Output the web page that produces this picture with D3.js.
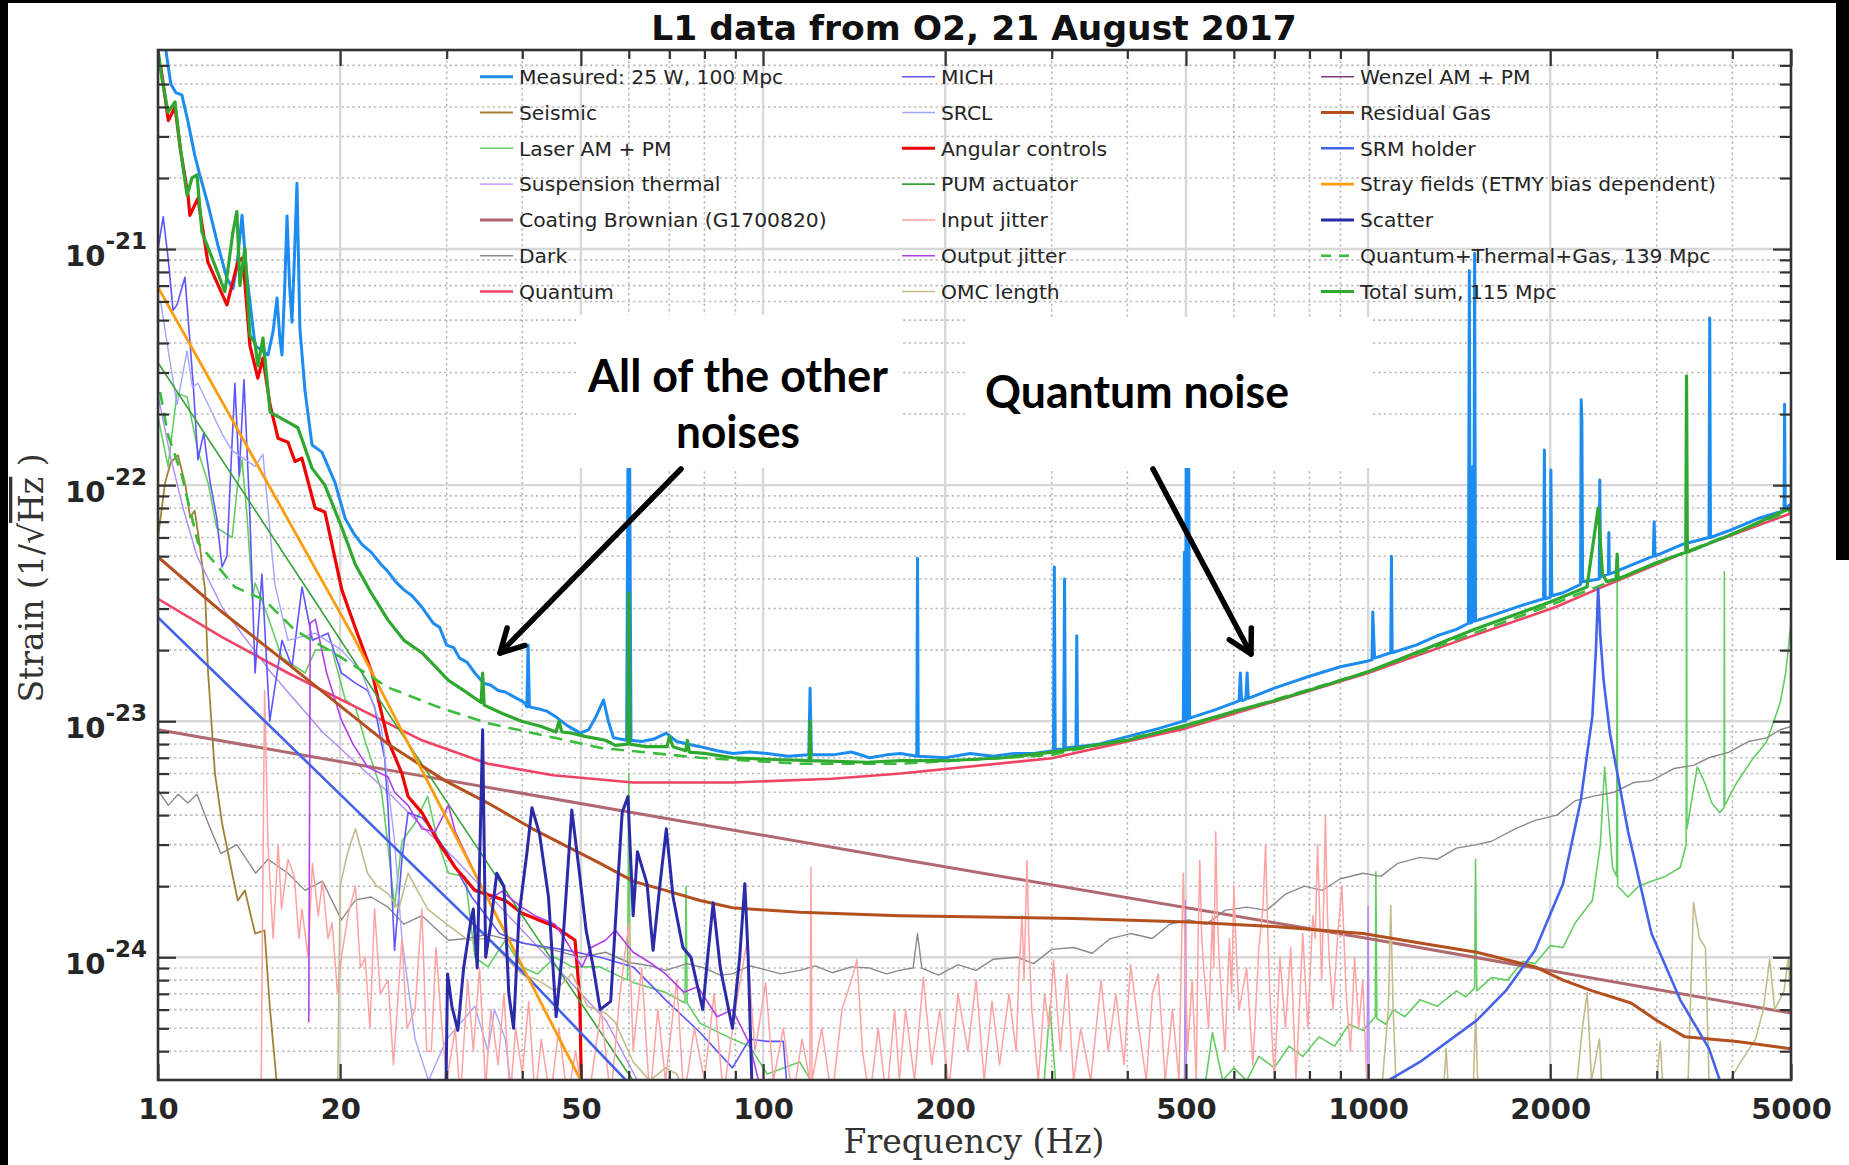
<!DOCTYPE html>
<html><head><meta charset="utf-8">
<script src="https://cdn.jsdelivr.net/npm/d3@7"></script>
<style>
html,body{margin:0;padding:0;background:#fff;}
svg{display:block;}
</style></head><body>
<svg id="chart" width="1849" height="1165"></svg>
<script>
// ===================== DATA (frequency Hz, strain 1/sqrt(Hz)) =====================
const X_DOMAIN = [10, 5000];
const Y_DOMAIN = [3.02e-25, 6.97e-21];
const X_MAJOR = [10, 20, 50, 100, 200, 500, 1000, 2000, 5000];
const X_MINOR = [30, 40, 60, 70, 80, 90, 300, 400, 600, 700, 800, 900, 3000, 4000];
const Y_MAJOR = [1e-24, 1e-23, 1e-22, 1e-21];
const Y_EXPONENTS = ["-24", "-23", "-22", "-21"];
const TITLE = "L1 data from O2, 21 August 2017";
const X_LABEL = "Frequency (Hz)";

const measured = [[10.15,8e-21],[10.3,7e-21],[10.5,5.0e-21],[10.7,4.6e-21],[10.95,4.5e-21],[11.2,3.5e-21],[11.5,2.5e-21],[11.7,2.1e-21],[12.1,1.54e-21],[12.56,1.04e-21],[13.0,7.5e-22],[13.3,6.8e-22],[13.5,8.5e-22],[13.77,1.39e-21],[14.0,8e-22],[14.47,3.9e-22],[15.2,3.56e-22],[15.5,4.5e-22],[15.73,6.2e-22],[15.9,4.2e-22],[16.03,3.56e-22],[16.2,7e-22],[16.34,1.38e-21],[16.5,7e-22],[16.65,4.9e-22],[16.8,9e-22],[16.97,1.9e-21],[17.16,4.6e-22],[17.5,2.5e-22],[17.97,1.48e-22],[18.66,1.38e-22],[19.6,1.03e-22],[20.4,7.2e-23],[21.1,6.2e-23],[21.75,5.6e-23],[22.5,5.2e-23],[23.4,4.6e-23],[24.0,4.3e-23],[24.7,3.9e-23],[25.5,3.6e-23],[26.3,3.4e-23],[27.3,3.04e-23],[28.5,2.6e-23],[29.2,2.5e-23],[30.0,2.1e-23],[30.8,2.05e-23],[31.5,1.85e-23],[32.4,1.78e-23],[33.4,1.6e-23],[34.5,1.45e-23],[35.5,1.42e-23],[36.5,1.35e-23],[37.5,1.33e-23],[38.5,1.28e-23],[40.3,1.2e-23],[40.7,1.15e-23],[40.9,2.1e-23],[41.1,1.15e-23],[43,1.12e-23],[44,1.1e-23],[45.3,1.05e-23],[47.4,9.6e-24],[49.9,8.9e-24],[51.5,9.2e-24],[53,1.05e-23],[54.5,1.23e-23],[55.5,1.0e-23],[56.6,8.5e-24],[59.5,8.3e-24],[59.9,3e-22],[60.1,3e-22],[60.5,8.3e-24],[63,8.2e-24],[66,8.4e-24],[69.2,8.9e-24],[72,8.2e-24],[75,8.0e-24],[78.7,7.8e-24],[84,7.5e-24],[89.2,7.3e-24],[95,7.4e-24],[101.6,7.3e-24],[110,7.1e-24],[119,7.2e-24],[119.6,1.38e-23],[120.2,7.2e-24],[130.5,7.2e-24],[140,7.4e-24],[150,7.0e-24],[160,7.2e-24],[168.8,7.3e-24],[179.5,7.1e-24],[180,4.9e-23],[180.5,7.1e-24],[200,7.0e-24],[220,7.3e-24],[240,7.1e-24],[260,7.3e-24],[280,7.3e-24],[302,7.5e-24],[303,4.5e-23],[304,7.6e-24],[314,7.6e-24],[315,4.0e-23],[316,7.7e-24],[329,7.8e-24],[330,2.3e-23],[331,7.8e-24],[360,8.0e-24],[400,8.6e-24],[450,9.3e-24],[495,1.0e-23],[497,5.2e-23],[499,1.0e-23],[501,3e-22],[503,1.02e-23],[505,2e-22],[507,1.03e-23],[560,1.12e-23],[612,1.22e-23],[615,1.6e-23],[618,1.22e-23],[628,1.24e-23],[631,1.6e-23],[634,1.25e-23],[700,1.38e-23],[800,1.55e-23],[900,1.7e-23],[1000,1.8e-23],[1015,1.82e-23],[1018,2.9e-23],[1025,1.85e-23],[1090,1.95e-23],[1093,5.0e-23],[1096,1.95e-23],[1200,2.1e-23],[1300,2.3e-23],[1400,2.45e-23],[1465,2.6e-23],[1470,8.1e-22],[1475,2.6e-23],[1485,2.62e-23],[1490,1.2e-22],[1495,2.65e-23],[1500,9.6e-22],[1505,2.66e-23],[1600,2.8e-23],[1800,3.1e-23],[1950,3.3e-23],[1956,1.41e-22],[1962,3.3e-23],[2000,3.35e-23],[2005,1.16e-22],[2012,3.4e-23],[2100,3.5e-23],[2245,3.8e-23],[2250,2.3e-22],[2256,1.9e-22],[2262,3.9e-23],[2410,4.0e-23],[2415,1.05e-22],[2422,4.1e-23],[2495,4.2e-23],[2500,6.3e-23],[2505,4.2e-23],[2960,5.0e-23],[2970,7.0e-23],[2980,5.0e-23],[3300,5.6e-23],[3660,6.0e-23],[3670,5.1e-22],[3680,6.0e-23],[4000,6.5e-23],[4400,7.2e-23],[4870,7.8e-23],[4880,2.2e-22],[4890,8.0e-23],[5000,8.3e-23]];

const seismic = [[10,6.0e-23],[10.27,1.02e-22],[10.5,1.25e-22],[10.79,1.34e-22],[11.1,1.0e-22],[11.3,7.3e-23],[11.5,7.8e-23],[11.73,5.5e-23],[11.96,3.6e-23],[12.1,1.6e-23],[12.42,6.0e-24],[12.76,3.7e-24],[13.26,2.27e-24],[13.55,1.74e-24],[13.92,1.92e-24],[14.47,1.26e-24],[15.0,1.3e-24],[15.3,6.2e-25],[15.6,3.6e-25],[15.8,2.5e-25]];

const laserAMPM = [[10,1.95e-22],[10.39,1.2e-22],[10.75,2.45e-22],[11.17,2.36e-22],[11.64,1.4e-22],[12.1,1.02e-22],[12.5,6.6e-23],[13.26,6.0e-23],[13.55,1.02e-22],[13.77,1.28e-22],[14.04,7.3e-23],[14.33,3.3e-23],[14.47,3.85e-23],[15.0,3.04e-23],[16.03,1.86e-23],[17.5,1.6e-23],[18.2,2.0e-23],[19.4,2.0e-23],[20.4,1.23e-23],[21.2,1.15e-23],[22.0,8.2e-24],[23.4,5.1e-24],[24.0,2.95e-24],[24.6,1.63e-24],[25.3,3.1e-24],[26.6,3.7e-24],[27.9,4.8e-24],[29,3.1e-24],[30.2,2.27e-24],[32.2,2.2e-24],[33.4,1.0e-24],[35.1,9.1e-25],[37.5,1.18e-24],[39.9,9.1e-25],[42.4,8.5e-25],[45.3,1.0e-24],[48.3,9.1e-25],[51.3,9.1e-25],[53.8,9.1e-25],[59.7,8e-25],[60,6e-24],[60.3,7.9e-25],[69,7.1e-25],[74.3,6.4e-25],[74.6,2.0e-24],[74.9,6.4e-25],[78.7,5.25e-25],[89,4.5e-25],[95,4.2e-25],[101.6,3.2e-25],[115,3.6e-25],[122,2.8e-25],[200,2.0e-25],[290,2.5e-25],[298,6.2e-25],[306,2.5e-25],[500,2.5e-25],[518,3.0e-25],[535,2.6e-25],[553,4.8e-25],[575,3.0e-25],[600,3.4e-25],[630,3.0e-25],[660,3.8e-25],[700,3.4e-25],[740,4.2e-25],[780,3.8e-25],[830,4.6e-25],[880,4.2e-25],[930,5.2e-25],[981,4.9e-25],[1028,5.6e-25],[1030,2.3e-24],[1034,5.5e-25],[1070,5.2e-25],[1100,6.0e-25],[1150,5.6e-25],[1218,6.6e-25],[1300,6.2e-25],[1400,7.2e-25],[1450,6.8e-25],[1500,7.4e-25],[1505,2.6e-24],[1512,7.2e-25],[1600,8.2e-25],[1700,8.0e-25],[1800,9.6e-25],[1888,9.4e-25],[2000,1.12e-24],[2100,1.1e-24],[2200,1.4e-24],[2348,1.74e-24],[2420,3e-24],[2460,6.4e-24],[2535,2.4e-24],[2575,2.2e-24],[2580,5.0e-23],[2585,2.0e-24],[2690,1.8e-24],[2800,2.0e-24],[2940,2.1e-24],[3100,2.2e-24],[3280,2.4e-24],[3355,3.0e-24],[3360,2.9e-22],[3365,3.5e-24],[3500,6.4e-24],[3600,5.5e-24],[3700,4.5e-24],[3810,4.1e-24],[3875,4.3e-24],[3880,4.3e-23],[3885,4.4e-24],[4070,5.5e-24],[4300,6.8e-24],[4560,8.2e-24],[4800,1.2e-23],[4900,1.6e-23],[5000,2.6e-23]];

const suspThermal = [[10,2.4e-22],[10.5,1.3e-22],[11,8e-23],[11.6,5e-23],[12.8,3.0e-23],[15.4,1.6e-23],[18.7,9e-24],[24,5e-24],[31,2.6e-24],[40,1.3e-24],[55,5.4e-25],[62,3.0e-25],[65,2.5e-25],[497,2.5e-25],[499,1.74e-24],[501,2.5e-25],[995,2.5e-25],[1000,1.65e-24],[1005,2.5e-25]];

const coatingBrownian = [[10,9.2e-24],[25,6.1e-24],[169,2.6e-24],[1000,1.2e-24],[5000,5.8e-25]];

const dark = [[10,5.1e-24],[10.4,4.4e-24],[10.8,4.9e-24],[11.2,4.5e-24],[11.6,4.9e-24],[12.1,3.7e-24],[12.7,2.75e-24],[13.5,3.0e-24],[14.5,2.27e-24],[15.2,2.6e-24],[16.4,2.27e-24],[17.5,1.92e-24],[18.7,2.1e-24],[20.1,1.44e-24],[21.2,1.75e-24],[22.5,1.8e-24],[24,1.63e-24],[25.5,1.38e-24],[27.3,1.5e-24],[30.2,1.18e-24],[32.5,1.2e-24],[35,1.25e-24],[40,1.15e-24],[45.3,1.07e-24],[50,1.0e-24],[54.9,1.05e-24],[60,9.5e-25],[65,9.2e-25],[69,8.8e-25],[75,9.4e-25],[80,9.0e-25],[85,8.4e-25],[89,8.5e-25],[95,9.2e-25],[100,8.9e-25],[107,8.5e-25],[115,8.8e-25],[122,9.2e-25],[130,8.6e-25],[140,9.1e-25],[150,9.0e-25],[160,8.5e-25],[168,8.8e-25],[177,9.0e-25],[180,1.26e-24],[183,9.0e-25],[195,8.4e-25],[210,9.3e-25],[225,8.8e-25],[240,9.8e-25],[263,1.0e-24],[280,9.4e-25],[300,1.08e-24],[326,1.1e-24],[350,1.04e-24],[375,1.2e-24],[405,1.26e-24],[440,1.2e-24],[470,1.38e-24],[505,1.44e-24],[540,1.38e-24],[580,1.58e-24],[630,1.63e-24],[680,1.58e-24],[730,1.85e-24],[785,2.0e-24],[840,1.92e-24],[900,2.15e-24],[981,2.27e-24],[1050,2.2e-24],[1120,2.5e-24],[1218,2.65e-24],[1300,2.6e-24],[1400,2.9e-24],[1512,3.0e-24],[1600,3.1e-24],[1750,3.5e-24],[1888,3.8e-24],[2050,4.0e-24],[2200,4.6e-24],[2348,4.8e-24],[2550,5.0e-24],[2750,5.5e-24],[2940,5.6e-24],[3200,6.3e-24],[3450,6.5e-24],[3660,7.0e-24],[3950,7.4e-24],[4250,8.2e-24],[4560,8.5e-24],[4800,9.2e-24],[5000,9.5e-24]];

const quantum = [[10,3.3e-23],[12.76,2.27e-23],[16.4,1.6e-23],[21.2,1.15e-23],[27.3,8.3e-24],[35.1,6.6e-24],[45,5.9e-24],[61,5.5e-24],[89,5.5e-24],[130,5.7e-24],[169,6.0e-24],[300,6.97e-24],[498,9.3e-24],[655,1.15e-23],[1000,1.6e-23],[1469,2.27e-23],[2038,3.04e-23],[2415,3.66e-23],[3406,5.3e-23],[5000,7.6e-23]];

const mich = [[10,1.0e-21],[10.2,1.37e-21],[10.4,9e-22],[10.59,5.5e-22],[10.75,5.8e-22],[11.08,7.6e-22],[11.43,2.7e-22],[11.64,1.28e-22],[11.9,1.66e-22],[12.2,1.02e-22],[12.5,7.3e-23],[12.76,4.5e-23],[13.0,5e-23],[13.2,1.2e-22],[13.4,2.7e-22],[13.62,1.1e-22],[13.87,2.8e-22],[14.19,7.3e-23],[14.47,1.6e-23],[14.85,4.2e-23],[15.3,1.0e-23],[16.03,2.2e-23],[16.65,1.7e-23],[17.3,3.7e-23],[18,2.2e-23],[19.1,2.36e-23],[20.1,1.6e-23],[21.2,1.45e-23],[22.2,1.35e-23],[22.8,1.15e-23],[23.7,6.9e-24],[24,4.3e-24],[24.6,1.07e-24],[25.3,2.6e-24],[25.9,4.1e-24],[27.3,3.9e-24],[28.3,3.5e-24],[30,2.8e-24],[33,1.8e-24],[36.7,1.26e-24],[40,1.15e-24],[47.4,1.07e-24],[53.8,1.0e-24],[61,9.1e-25],[69,6.6e-25],[78.7,4.8e-25],[89,3.4e-25],[95,4.5e-25],[101.6,4.4e-25],[108,4.4e-25],[110,2.5e-25]];

const srcl = [[10.1,6e-22],[10.4,3.7e-22],[10.75,2.2e-22],[11.17,3.7e-22],[11.4,2.6e-22],[11.64,2.7e-22],[12.2,2.1e-22],[12.76,1.65e-22],[13.26,1.4e-22],[14.47,1.2e-22],[14.91,1.35e-22],[15.6,3.8e-23],[16.4,2.2e-23],[18.2,2.36e-23],[20.1,2.0e-23],[21.75,1.6e-23],[23.4,9.4e-24],[24.6,3.1e-24],[25.3,1.2e-24],[26.6,4.5e-25],[28,3.0e-25],[30,4.5e-25],[33.4,6.2e-25],[35.1,4.0e-25],[36,6.0e-25],[37.5,4.5e-25],[38.5,2.5e-25]];

const angularControls = [[10.1,6e-21],[10.4,3.5e-21],[10.67,4e-21],[10.9,2.6e-21],[11.21,1.69e-21],[11.29,1.39e-21],[11.64,1.64e-21],[12.09,8.8e-22],[13.0,5.8e-22],[13.55,8.8e-22],[13.81,9.2e-22],[14.19,3.9e-22],[14.62,2.84e-22],[14.91,3.45e-22],[15.32,2.18e-22],[15.79,1.58e-22],[16.4,1.52e-22],[16.84,1.26e-22],[17.29,1.3e-22],[18.18,8.0e-23],[18.87,7.7e-23],[20.13,3.6e-23],[21.17,2.5e-23],[22.58,1.6e-23],[24.0,8.3e-24],[25.3,6.0e-24],[25.9,4.8e-24],[27.3,4.1e-24],[29.0,3.1e-24],[31.0,2.4e-24],[33.4,1.92e-24],[37.5,1.74e-24],[39.9,1.54e-24],[45.3,1.35e-24],[48.9,1.18e-24],[49.8,6.6e-25],[50.2,2e-25]];

const pumActuator = [[10,3.3e-22],[18,3.35e-23],[25.1,9.1e-24],[40,1.5e-24],[61,3e-25]];

const inputJitter = [[14.8,2.5e-25],[15.0,1.35e-23],[15.2,3.0e-24],[15.5,1.2e-24],[15.8,3.0e-24],[16.0,1.6e-24],[16.4,2.6e-24],[16.8,2.2e-24],[17.1,1.2e-24],[17.3,1.6e-24],[17.7,1.0e-24],[18.0,2.5e-24],[18.4,1.5e-24],[18.7,2.1e-24],[19.1,1.2e-24],[19.4,1.4e-24],[19.8,7e-25],[20.1,1.0e-24],[20.6,1.5e-24],[21.2,2.0e-24],[21.6,9e-25],[22.0,1.0e-24],[22.4,5e-25],[22.8,1.6e-24],[23.3,7e-25],[24.0,8e-25],[24.5,3.5e-25],[25.3,1.2e-24],[25.8,5e-25],[26.6,6e-25],[27.3,1.6e-24],[27.8,4e-25],[28.3,4e-25],[28.8,1.1e-24],[29.3,6e-25],[30.0,3e-25],[31.0,5e-25],[31.6,2.5e-25],[32.5,8e-25],[33.2,4e-25],[34,9e-25],[34.8,2.8e-25],[35.5,6e-25],[36.5,3.5e-25],[37.3,7e-25],[38.2,2.5e-25],[39,5e-25],[40,3.2e-25],[41,6.5e-25],[42,2.5e-25],[43,4.5e-25],[44.5,2.5e-25],[46,5e-25],[47.5,2.5e-25],[49,4e-25],[50.5,2.5e-25],[52,3e-25],[54,6e-25],[56,2.5e-25],[58,7e-25],[60,1.4e-24],[61,4e-25],[63,9e-25],[65,2.5e-25],[67,6e-25],[69,3e-25],[72,8e-25],[74,2.5e-25],[77,5e-25],[80,3e-25],[83,7e-25],[86,2.6e-25],[90,6e-25],[94,1.15e-24],[97,4e-25],[101,7.8e-25],[104,3e-25],[108,5e-25],[112,2.5e-25],[116,4.5e-25],[119.5,3e-25],[120,2.4e-24],[120.5,3e-25],[125,5e-25],[130,2.5e-25],[135,6e-25],[140,8e-25],[143,9.8e-25],[146,4e-25],[150,2.5e-25],[155,5e-25],[160,2.5e-25],[165,6e-25],[168,3e-25],[172,6e-25],[178,3e-25],[184,8.2e-25],[190,3.5e-25],[196,6e-25],[203,2.8e-25],[210,7e-25],[218,4e-25],[225,8e-25],[232,3e-25],[239,6.5e-25],[246,3.5e-25],[255,7e-25],[262,4e-25],[265,9e-25],[268,1.5e-24],[270,8e-25],[273,2.57e-24],[275,1.2e-24],[278,6e-25],[285,3e-25],[292,7e-25],[297,5e-25],[302,9.7e-25],[310,4e-25],[318,8.5e-25],[326,3e-25],[335,5e-25],[348,3e-25],[362,8e-25],[372,4e-25],[383,7e-25],[395,3.5e-25],[405,9.3e-25],[418,5e-25],[430,3e-25],[440,7e-25],[450,8.5e-25],[462,3e-25],[475,6e-25],[487,3e-25],[492,1.2e-24],[495,2.27e-24],[499,9e-25],[503,4e-25],[512,8e-25],[520,3e-25],[524,1.3e-24],[527,2.57e-24],[531,1.2e-24],[535,9e-25],[545,5e-25],[553,1.5e-24],[556,9e-25],[560,3.4e-24],[563,1.6e-24],[567,1.0e-24],[580,4e-25],[590,1.2e-24],[595,7e-25],[600,2.0e-24],[606,1.0e-24],[612,6e-25],[630,9e-25],[645,3.5e-25],[660,1.1e-24],[670,1.6e-24],[677,3.0e-24],[682,1.4e-24],[688,7e-25],[700,3e-25],[715,1.0e-24],[730,5e-25],[745,1.1e-24],[760,3e-25],[780,1.26e-24],[795,5e-25],[810,1.5e-24],[818,1.2e-24],[825,3.0e-24],[832,1.5e-24],[838,8e-25],[845,1.8e-24],[850,4.0e-24],[856,1.6e-24],[862,1.0e-24],[875,6e-25],[890,1.2e-24],[905,2.0e-24],[920,7e-25],[935,4e-25],[950,1.0e-24],[965,5e-25],[980,8e-25],[995,3e-25],[1005,2.5e-25]];

const outputJitter = [[17.75,5.3e-25],[17.85,2.6e-23],[18.2,2.7e-23],[19,1.6e-23],[20.1,1.01e-23],[21,8e-24],[22.2,6.4e-24],[24,5.8e-24],[24.6,5.0e-24],[25.9,4.4e-24],[27.3,3.5e-24],[28.7,3.4e-24],[30.2,4.4e-24],[31,3.4e-24],[33.4,2.27e-24],[35.1,1.74e-24],[37,1.9e-24],[39.9,1.63e-24],[42,1.5e-24],[45.3,1.38e-24],[47,1.2e-24],[50.2,9.1e-25],[52,1.1e-24],[54.9,1.18e-24],[57,1.3e-24],[61,1.05e-24],[65,9.5e-25],[69,8.5e-25],[74,7.1e-25],[78,7.5e-25],[84,5.6e-25],[89,6.0e-25],[95,4.3e-25],[100,2.5e-25]];

const omcLength = [[19.8,2.5e-25],[20.0,2.0e-24],[20.6,2.8e-24],[21.2,3.5e-24],[22.2,2.27e-24],[23,2.0e-24],[24,1.86e-24],[25,1.6e-24],[25.9,2.27e-24],[27.9,1.6e-24],[30,1.38e-24],[32.6,1.18e-24],[35.1,1.2e-24],[37.5,1.0e-24],[39.9,8.5e-25],[42.4,8e-25],[45.3,7.2e-25],[48.3,8.5e-25],[51.3,6.2e-25],[54.9,5.8e-25],[57,5.3e-25],[61,3.6e-25],[65,3e-25],[69,3.4e-25],[72,3.2e-25],[75,2.5e-25],[1050,2.5e-25],[1080,6e-25],[1090,1.66e-24],[1100,6e-25],[1115,2.5e-25],[1330,2.5e-25],[1346,4.1e-25],[1360,2.5e-25],[1490,2.5e-25],[1506,5.8e-25],[1520,2.5e-25],[2200,2.5e-25],[2260,5e-25],[2302,7.1e-25],[2340,3e-25],[2412,4.5e-25],[2440,2.5e-25],[2980,2.5e-25],[3040,4.4e-25],[3080,2.5e-25],[3380,3e-25],[3450,1.7e-24],[3530,1.2e-24],[3610,1.1e-24],[3660,3e-25],[3900,2.8e-25],[4100,3.5e-25],[4370,4.5e-25],[4500,6e-25],[4610,9.8e-25],[4700,6e-25],[4870,7.2e-25],[4950,1.0e-24],[5000,6e-25]];

const wenzelAMPM = [];

const residualGas = [[10,4.96e-23],[12.76,2.9e-23],[16.4,1.75e-23],[20.1,1.15e-23],[24,8.0e-24],[29.8,5.6e-24],[35.1,4.5e-24],[41.6,3.5e-24],[53.8,2.5e-24],[61,2.1e-24],[69,1.92e-24],[78.7,1.74e-24],[89,1.62e-24],[115,1.55e-24],[168,1.5e-24],[326,1.46e-24],[505,1.41e-24],[698,1.35e-24],[981,1.26e-24],[1218,1.15e-24],[1512,1.05e-24],[1888,9.1e-25],[2100,8.0e-25],[2348,7.2e-25],[2720,6.4e-25],[3000,5.4e-25],[3340,4.6e-25],[4070,4.4e-25],[5000,4.1e-25]];

const srmHolder = [[10,2.75e-23],[20,4.9e-24],[40,8.7e-25],[61,2.8e-25],[61,null],[1030,2.8e-25],[1218,3.6e-25],[1512,5.4e-25],[1688,7.2e-25],[1888,1.07e-24],[2100,2.05e-24],[2246,4.6e-24],[2348,1.05e-23],[2380,2.0e-23],[2400,3.7e-23],[2420,2.3e-23],[2450,1.5e-23],[2510,8.9e-24],[2690,3.4e-24],[2940,1.26e-24],[3280,6.6e-25],[3660,4.1e-25],[3850,2.8e-25]];

const strayFields = [[10,6.9e-22],[21.2,2.2e-23],[50,3.0e-25]];

const scatter = [[29.9,2.5e-25],[30.1,8.5e-25],[30.6,6.2e-25],[31.3,4.9e-25],[32,9e-25],[32.9,1.44e-24],[33.2,1.6e-24],[33.7,9e-25],[34.4,9.2e-24],[34.8,1.0e-24],[35.5,1.4e-24],[36.3,2.27e-24],[37.3,2.0e-24],[38,7e-25],[38.7,5.0e-25],[39.5,1.5e-24],[40.7,2.75e-24],[41.5,4.3e-24],[42.7,3.35e-24],[44.2,1.8e-24],[45.5,5.6e-25],[46.5,1.0e-24],[48.3,4.2e-24],[49.8,2.2e-24],[51,1.3e-24],[52.4,9.1e-25],[53.8,6.0e-25],[56,6.5e-25],[57.5,2e-24],[58.5,4.1e-24],[59.8,4.8e-24],[61,1.5e-24],[62,2.8e-24],[64.3,2.05e-24],[65.8,1.07e-24],[67.5,2.0e-24],[69.2,3.5e-24],[71,1.8e-24],[73.7,1.1e-24],[76,1.0e-24],[79.5,6.0e-25],[81,1.0e-24],[82.7,1.7e-24],[85,9e-25],[89,5.0e-25],[91.5,1.0e-24],[93.3,2.05e-24],[94.5,1.0e-24],[96,2.5e-25]];

const quantumThermalGas = [[10.08,2.48e-22],[10.39,1.63e-22],[10.95,1.1e-22],[11.64,5.7e-23],[13.4,3.7e-23],[15.0,3.26e-23],[16.84,2.43e-23],[20.1,1.86e-23],[24,1.39e-23],[29,1.15e-23],[35.1,9.8e-24],[45.3,8.5e-24],[54,7.7e-24],[78.7,7.0e-24],[115,6.6e-24],[169,6.6e-24],[300,7.2e-24],[500,9.5e-24],[1000,1.62e-23],[2000,3.1e-23],[5000,7.8e-23]];

const totalSum = [[10.0,7e-21],[10.15,5.3e-21],[10.39,3.8e-21],[10.67,4.2e-21],[10.87,2.75e-21],[11.17,1.69e-21],[11.38,2.0e-21],[11.6,2.06e-21],[11.82,1.18e-21],[12.28,9.2e-22],[12.9,6.6e-22],[13.3,1.18e-21],[13.5,1.44e-21],[13.66,7.0e-22],[13.92,1.01e-21],[14.19,4.3e-22],[14.47,4.0e-22],[14.62,3.2e-22],[14.91,4.2e-22],[15.32,2.04e-22],[16.4,1.85e-22],[17.03,1.75e-22],[17.97,1.18e-22],[18.87,1.0e-22],[20.13,6.6e-23],[21.2,4.6e-23],[22.5,3.5e-23],[24.0,2.68e-23],[25.5,2.2e-23],[27.3,1.95e-23],[30.2,1.49e-23],[32,1.35e-23],[34.2,1.2e-23],[34.4,1.6e-23],[34.6,1.17e-23],[37,1.08e-23],[39.9,1.0e-23],[43,9.5e-24],[45.5,9.0e-24],[46,1.0e-23],[46.5,9.0e-24],[48.3,8.9e-24],[51,8.6e-24],[54.9,8.3e-24],[57,7.9e-24],[59.8,8e-24],[60,3.5e-23],[60.2,8e-24],[64,7.8e-24],[69.4,7.8e-24],[70,8.6e-24],[71,7.8e-24],[74.5,7.5e-24],[75,8.3e-24],[75.5,7.4e-24],[80,7.3e-24],[89.2,7.0e-24],[101.6,6.9e-24],[119.3,6.8e-24],[119.6,1.0e-23],[119.9,6.8e-24],[148.7,6.7e-24],[169,6.8e-24],[200,6.8e-24],[250,7.0e-24],[300,7.4e-24],[400,8.3e-24],[500,9.6e-24],[600,1.1e-23],[700,1.22e-23],[850,1.42e-23],[1000,1.62e-23],[1200,1.95e-23],[1500,2.45e-23],[2000,3.2e-23],[2300,3.7e-23],[2400,8.0e-23],[2440,4.2e-23],[2480,3.9e-23],[2570,4.0e-23],[2580,5.1e-23],[2590,4.0e-23],[3000,4.7e-23],[3350,5.2e-23],[3360,2.9e-22],[3370,5.2e-23],[4000,6.2e-23],[4500,7.1e-23],[5000,8.0e-23]];

// legend labels (column-major)
const LEGEND_COLS = [
  ["Measured: 25 W, 100 Mpc","Seismic","Laser AM + PM","Suspension thermal","Coating Brownian (G1700820)","Dark","Quantum"],
  ["MICH","SRCL","Angular controls","PUM actuator","Input jitter","Output jitter","OMC length"],
  ["Wenzel AM + PM","Residual Gas","SRM holder","Stray fields (ETMY bias dependent)","Scatter","Quantum+Thermal+Gas, 139 Mpc","Total sum, 115 Mpc"]
];
const ANNOT_LEFT = ["All of the other", "noises"];
const ANNOT_RIGHT = "Quantum noise";

// ===================== STYLES =====================
const STYLE = {
  "Measured: 25 W, 100 Mpc": {data: measured, color:"#1c8cf0", w:3},
  "Seismic": {data: seismic, color:"#a28035", w:1.8},
  "Laser AM + PM": {data: laserAMPM, color:"#64cd64", w:1.6},
  "Suspension thermal": {data: suspThermal, color:"#b28cf6", w:1.4},
  "Coating Brownian (G1700820)": {data: coatingBrownian, color:"#b0696f", w:3},
  "Dark": {data: dark, color:"#8a8a8a", w:1.4},
  "Quantum": {data: quantum, color:"#f04466", w:2.6},
  "MICH": {data: mich, color:"#5e55ff", w:1.6},
  "SRCL": {data: srcl, color:"#a4a4ff", w:1.4},
  "Angular controls": {data: angularControls, color:"#f00000", w:3.2},
  "PUM actuator": {data: pumActuator, color:"#3aa23a", w:1.6},
  "Input jitter": {data: inputJitter, color:"#ffa2a2", w:1.5},
  "Output jitter": {data: outputJitter, color:"#b240ea", w:1.6},
  "OMC length": {data: omcLength, color:"#c2bc8a", w:1.6},
  "Wenzel AM + PM": {data: wenzelAMPM, color:"#7e3a7e", w:1.6},
  "Residual Gas": {data: residualGas, color:"#b4501e", w:3},
  "SRM holder": {data: srmHolder, color:"#4462ea", w:2.6},
  "Stray fields (ETMY bias dependent)": {data: strayFields, color:"#ff9c0c", w:2.8},
  "Scatter": {data: scatter, color:"#2b2baa", w:3},
  "Quantum+Thermal+Gas, 139 Mpc": {data: quantumThermalGas, color:"#3cbc3c", w:2.6, dash:"13,8"},
  "Total sum, 115 Mpc": {data: totalSum, color:"#2fa82f", w:3.2}
};

// ===================== DRAW =====================
const W=1849, H=1165;
const P={l:158, r:1791, t:50, b:1080};
const svg = d3.select("#chart");
const x = d3.scaleLog().domain(X_DOMAIN).range([P.l, P.r]);
const y = d3.scaleLog().domain(Y_DOMAIN).range([P.b, P.t]);

svg.append("rect").attr("width",W).attr("height",H).attr("fill","#fff");

const Y_MINOR = [];
for (let e=-25; e<=-21; e++) for (let k=2;k<=9;k++){ const v=k*Math.pow(10,e); if (v>Y_DOMAIN[0] && v<Y_DOMAIN[1]) Y_MINOR.push(v); }

// grid
const grid = svg.append("g");
grid.selectAll(".gxm").data(X_MINOR).join("line")
  .attr("x1",d=>x(d)).attr("x2",d=>x(d)).attr("y1",P.t).attr("y2",P.b)
  .attr("stroke","#b8b8b8").attr("stroke-width",1.6).attr("stroke-dasharray","2.2,3.2");
grid.selectAll(".gym").data(Y_MINOR).join("line")
  .attr("y1",d=>y(d)).attr("y2",d=>y(d)).attr("x1",P.l).attr("x2",P.r)
  .attr("stroke","#b8b8b8").attr("stroke-width",1.6).attr("stroke-dasharray","2.2,3.2");
grid.selectAll(".gxM").data(X_MAJOR.slice(1,-1)).join("line")
  .attr("x1",d=>x(d)).attr("x2",d=>x(d)).attr("y1",P.t).attr("y2",P.b)
  .attr("stroke","#d8d8d8").attr("stroke-width",2.4);
grid.selectAll(".gyM").data(Y_MAJOR).join("line")
  .attr("y1",d=>y(d)).attr("y2",d=>y(d)).attr("x1",P.l).attr("x2",P.r)
  .attr("stroke","#d8d8d8").attr("stroke-width",2.4);

svg.append("clipPath").attr("id","plotclip").append("rect")
  .attr("x",P.l).attr("y",P.t).attr("width",P.r-P.l).attr("height",P.b-P.t);

const line = d3.line().defined(d=>d[1]!=null).x(d=>x(d[0])).y(d=>y(d[1]));
const plot = svg.append("g").attr("clip-path","url(#plotclip)");
const ORDER = LEGEND_COLS[0].concat(LEGEND_COLS[1], LEGEND_COLS[2]);
ORDER.forEach(name=>{
  const s = STYLE[name];
  if (!s.data.length) return;
  plot.append("path").datum(s.data).attr("d",line)
    .attr("fill","none").attr("stroke",s.color).attr("stroke-width",s.w)
    .attr("stroke-linejoin","round").attr("stroke-dasharray",s.dash||null);
});

// axes (ticks inside)
const tickFont = "'DejaVu Sans', Verdana, sans-serif";
function styleTicks(g){
  g.select(".domain").remove();
  g.selectAll(".tick line").attr("stroke","#333").attr("stroke-width",2.2);
}
const gB = svg.append("g").attr("transform",`translate(0,${P.b})`)
  .call(d3.axisBottom(x).tickValues(X_MAJOR).tickFormat(d3.format("d")).tickSizeInner(-16).tickSizeOuter(0).tickPadding(18));
styleTicks(gB);
gB.selectAll("text").attr("font-family",tickFont).attr("font-size",29).attr("font-weight","bold").attr("fill","#262626");
const gBm = svg.append("g").attr("transform",`translate(0,${P.b})`)
  .call(d3.axisBottom(x).tickValues(X_MINOR).tickFormat("").tickSizeInner(-9).tickSizeOuter(0));
styleTicks(gBm);
const gT = svg.append("g").attr("transform",`translate(0,${P.t})`)
  .call(d3.axisTop(x).tickValues(X_MAJOR).tickFormat("").tickSizeInner(-16).tickSizeOuter(0));
styleTicks(gT);
const gTm = svg.append("g").attr("transform",`translate(0,${P.t})`)
  .call(d3.axisTop(x).tickValues(X_MINOR).tickFormat("").tickSizeInner(-9).tickSizeOuter(0));
styleTicks(gTm);

const gL = svg.append("g").attr("transform",`translate(${P.l},0)`)
  .call(d3.axisLeft(y).tickValues(Y_MAJOR).tickSizeInner(-18).tickSizeOuter(0).tickPadding(11));
styleTicks(gL);
gL.selectAll(".tick text").each(function(d){
  const t = d3.select(this);
  t.text(null).attr("dy",null).attr("y",16)
   .attr("font-family",tickFont).attr("font-weight","bold").attr("fill","#262626").attr("text-anchor","end");
  t.append("tspan").attr("font-size",29).text("10");
  t.append("tspan").attr("font-size",23).attr("dy",-17).text(Y_EXPONENTS[Y_MAJOR.indexOf(d)]);
});
const gLm = svg.append("g").attr("transform",`translate(${P.l},0)`)
  .call(d3.axisLeft(y).tickValues(Y_MINOR).tickFormat("").tickSizeInner(-11).tickSizeOuter(0));
styleTicks(gLm);
const gR = svg.append("g").attr("transform",`translate(${P.r},0)`)
  .call(d3.axisRight(y).tickValues(Y_MAJOR).tickFormat("").tickSizeInner(-18).tickSizeOuter(0));
styleTicks(gR);
const gRm = svg.append("g").attr("transform",`translate(${P.r},0)`)
  .call(d3.axisRight(y).tickValues(Y_MINOR).tickFormat("").tickSizeInner(-11).tickSizeOuter(0));
styleTicks(gRm);

svg.append("rect").attr("x",P.l).attr("y",P.t).attr("width",P.r-P.l).attr("height",P.b-P.t)
  .attr("fill","none").attr("stroke","#333").attr("stroke-width",2.6);

// legend
const LEG_X = [480, 902, 1321], LEG_Y0 = 76.7, LEG_DY = 35.8;
LEGEND_COLS.forEach((col,ci)=>{
  col.forEach((name,ri)=>{
    const s = STYLE[name];
    const yy = LEG_Y0 + ri*LEG_DY;
    const g = svg.append("g");
    g.append("line").attr("x1",LEG_X[ci]).attr("x2",LEG_X[ci]+33).attr("y1",yy).attr("y2",yy)
      .attr("stroke",s.color).attr("stroke-width",Math.min(s.w,3))
      .attr("stroke-dasharray", s.dash ? "10,8" : null);
    g.append("text").attr("x",LEG_X[ci]+39).attr("y",yy+7.3)
      .attr("font-family","'DejaVu Sans', Verdana, sans-serif").attr("font-size",20.3)
      .attr("fill","#262626").text(name);
  });
});

// annotation boxes
svg.append("rect").attr("x",577).attr("y",315).attr("width",323).attr("height",153).attr("fill","#fff");
svg.append("rect").attr("x",968).attr("y",317).attr("width",402).attr("height",151).attr("fill","#fff");

const annFont = "Lato, 'Open Sans', sans-serif";
svg.append("text").attr("x",738).attr("y",392).attr("text-anchor","middle")
  .attr("font-family",annFont).attr("font-weight","bold").attr("font-size",46).attr("fill","#000")
  .attr("textLength",300).attr("lengthAdjust","spacingAndGlyphs").text(ANNOT_LEFT[0]);
svg.append("text").attr("x",738).attr("y",448).attr("text-anchor","middle")
  .attr("font-family",annFont).attr("font-weight","bold").attr("font-size",46).attr("fill","#000")
  .attr("textLength",124).attr("lengthAdjust","spacingAndGlyphs").text(ANNOT_LEFT[1]);
svg.append("text").attr("x",1137).attr("y",408).attr("text-anchor","middle")
  .attr("font-family",annFont).attr("font-weight","bold").attr("font-size",46).attr("fill","#000")
  .attr("textLength",304).attr("lengthAdjust","spacingAndGlyphs").text(ANNOT_RIGHT);

function arrow(x1,y1,x2,y2){
  const g = svg.append("g").attr("stroke","#000").attr("stroke-width",5.5).attr("fill","none")
    .attr("stroke-linecap","round").attr("stroke-linejoin","round");
  g.append("line").attr("x1",x1).attr("y1",y1).attr("x2",x2).attr("y2",y2);
  const a = Math.atan2(y2-y1, x2-x1), L=26, sp=0.5;
  const p1=[x2-L*Math.cos(a-sp), y2-L*Math.sin(a-sp)], p2=[x2-L*Math.cos(a+sp), y2-L*Math.sin(a+sp)];
  g.append("path").attr("d",`M${p1[0]},${p1[1]}L${x2},${y2}L${p2[0]},${p2[1]}`);
}
arrow(681,469,500,653);
arrow(1153,469,1251,654);

svg.append("text").attr("x",974).attr("y",40).attr("text-anchor","middle")
  .attr("font-family","'DejaVu Sans', sans-serif").attr("font-weight","bold").attr("font-size",34.5)
  .attr("fill","#111").text(TITLE);
svg.append("text").attr("x",974).attr("y",1153).attr("text-anchor","middle")
  .attr("font-family","'DejaVu Serif', serif").attr("font-size",33).attr("fill","#333").text(X_LABEL);
const yl = svg.append("text").attr("transform","translate(43,578) rotate(-90)").attr("text-anchor","middle")
  .attr("font-family","'DejaVu Serif', serif").attr("font-size",33).attr("fill","#333");
yl.append("tspan").text("Strain (1/\u221A");
yl.append("tspan").style("text-decoration","overline").text("Hz");
yl.append("tspan").text(" )");

// dark slide edges
svg.append("rect").attr("x",0).attr("y",0).attr("width",W).attr("height",3).attr("fill","#000");
svg.append("rect").attr("x",0).attr("y",0).attr("width",8).attr("height",H).attr("fill","#000");
svg.append("rect").attr("x",1836).attr("y",0).attr("width",13).attr("height",560).attr("fill","#000");
</script></body></html>
